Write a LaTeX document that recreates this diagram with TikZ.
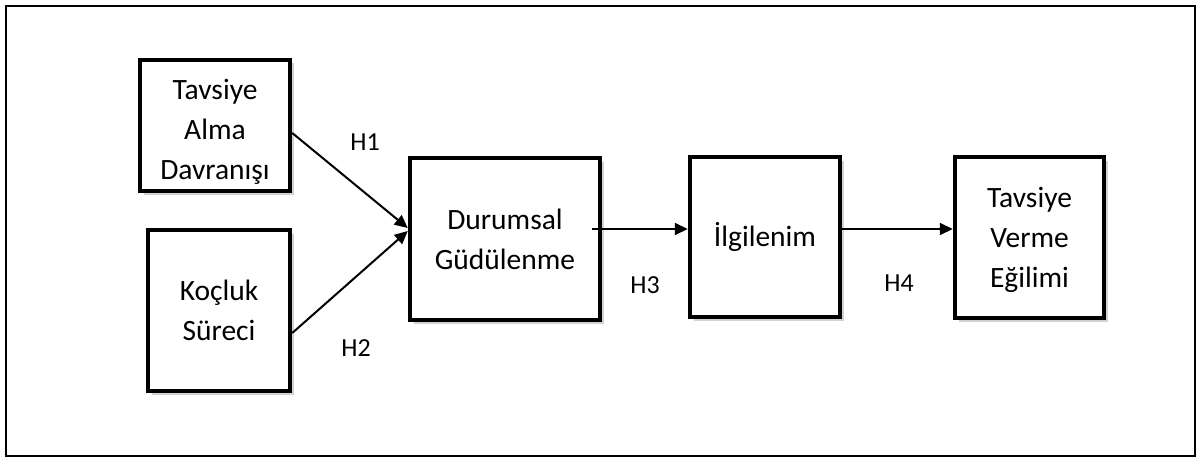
\documentclass[tikz,border=0pt]{standalone}
\usepackage{fontspec}
\setmainfont{Carlito}
\usetikzlibrary{arrows.meta,shadows}
\begin{document}
\begin{tikzpicture}[x=1pt,y=-1pt,
  box/.style={draw=black,line width=4.5pt,fill=white,align=center,inner sep=0pt,
    font=\fontsize{29.5}{40}\selectfont,
    drop shadow={shadow xshift=3.5pt,shadow yshift=-3.5pt,fill=black!22,opacity=0.8}},
  conn/.style={line width=2pt,-{Triangle[length=13pt,width=12pt]}},
  lab/.style={font=\fontsize{26}{30}\selectfont,inner sep=0pt}]
\useasboundingbox (0,0) rectangle (1201,460);
\draw[line width=2pt] (6,6) rectangle (1195,456);
\node[box,minimum width=150pt,minimum height=131pt] (b1) at (215,125.5) {\rule{0pt}{32pt}Tavsiye\\Alma\\Davranışı};
\node[box,minimum width=142pt,minimum height=161pt] (b2) at (219,310.5) {Koçluk\\Süreci};
\node[box,minimum width=190pt,minimum height=162pt] (b3) at (505,239) {Durumsal\\Güdülenme};
\node[box,minimum width=150pt,minimum height=160pt] (b4) at (765,237) {İlgilenim};
\node[box,minimum width=149pt,minimum height=161pt] (b5) at (1029.5,237.5) {\rule{0pt}{25pt}Tavsiye\\Verme\\Eğilimi};
\draw[conn] ([yshift=-7.5pt]b1.east) -- ([yshift=11pt]b3.west);
\draw[conn] ([yshift=-22.5pt]b2.east) -- ([yshift=8pt]b3.west);
\draw[conn] ([xshift=-10pt,yshift=10pt]b3.east) -- ([yshift=8pt]b4.west);
\draw[conn] ([yshift=8pt]b4.east) -- ([yshift=8.5pt]b5.west);
\node[lab] (h1) at (365,142) {H1};
\node[lab] (h2) at (356,348) {H2};
\node[lab] (h3) at (645,285) {H3};
\node[lab] (h4) at (899,283) {H4};
\end{tikzpicture}
\end{document}
